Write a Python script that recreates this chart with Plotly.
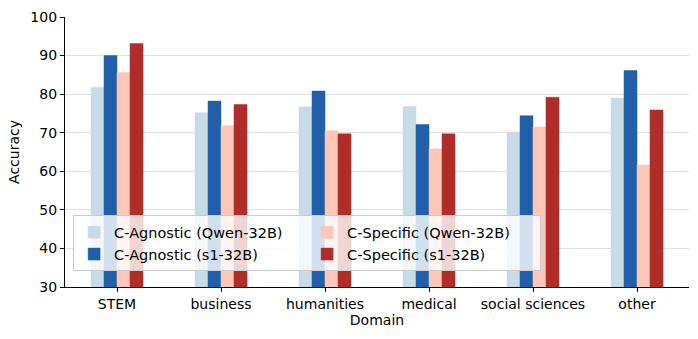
import plotly.graph_objects as go

domains = ["STEM", "business", "humanities", "medical", "social sciences", "other"]
agn_qwen = [81.8, 75.2, 76.7, 76.8, 70.2, 79.0]
agn_s1 = [90.0, 78.2, 80.8, 72.1, 74.4, 86.1]
spec_qwen = [85.6, 71.8, 70.5, 65.8, 71.5, 61.6]
spec_s1 = [93.1, 77.3, 69.7, 69.7, 79.2, 75.9]

series = [
    ("C-Agnostic (Qwen-32B)", agn_qwen, "#c6dbe6", 1),
    ("C-Agnostic (s1-32B)", agn_s1, "#2160a8", 3),
    ("C-Specific (Qwen-32B)", spec_qwen, "#fdc7b7", 2),
    ("C-Specific (s1-32B)", spec_s1, "#b02e2a", 4),
]

font = "DejaVu Sans"
fig = go.Figure()
for name, vals, color, rank in series:
    fig.add_trace(go.Bar(
        x=domains, y=vals, name=name, legendrank=rank,
        marker=dict(color=color, line=dict(color=color, width=0.5)),
    ))

fig.update_layout(
    width=698, height=339,
    margin=dict(l=65, r=9, t=14, b=52),
    barmode="group", bargap=0.5, bargroupgap=0,
    plot_bgcolor="white", paper_bgcolor="white",
    font=dict(family=font, size=14, color="black"),
    showlegend=True,
    legend=dict(
        orientation="h", x=0.013, y=0.058, xanchor="left", yanchor="bottom",
        entrywidth=188, entrywidthmode="pixels",
        bgcolor="rgba(255,255,255,0.8)", bordercolor="#cccccc", borderwidth=1,
        font=dict(family=font, size=14.5), itemwidth=30,
        tracegroupgap=0,
    ),
)
fig.update_xaxes(
    range=[-0.5, 5.5], showline=True, linecolor="black", linewidth=1.2,
    ticks="outside", ticklen=4, tickcolor="black", showgrid=False,
    title=dict(text="Domain", font=dict(size=14), standoff=2),
    mirror=False,
)
fig.update_yaxes(
    range=[30, 100], dtick=10, showline=True, linecolor="black", linewidth=1.2,
    ticks="outside", ticklen=4, tickcolor="black",
    showgrid=True, gridcolor="#e0e0e0", gridwidth=1,
    title=dict(text="Accuracy", font=dict(size=14), standoff=7),
    zeroline=False,
)
fig.write_html("out.html", config={"displayModeBar": False},
               post_script="document.body.style.margin='0';")
